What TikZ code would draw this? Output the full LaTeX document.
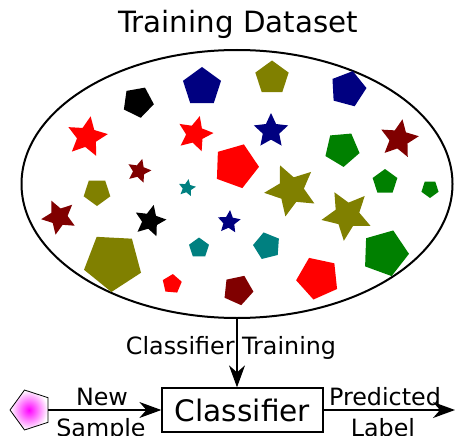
\documentclass[tikz,border=0pt]{standalone}
\usepackage{fontspec}
\setmainfont{DejaVu Sans}
\usetikzlibrary{arrows.meta,shapes.geometric}

% regular pentagon: x, y, circumradius, angle of first vertex, colour
\newcommand\pentashape[5]{%
  \fill[#5, shift={(#1,#2)}] (#4:#3) -- ({#4+72}:#3) -- ({#4+144}:#3)
    -- ({#4+216}:#3) -- ({#4+288}:#3) -- cycle;}
% five-pointed star: x, y, outer radius, angle of first point, colour
\newcommand\starshape[5]{%
  \fill[#5, shift={(#1,#2)}] (#4:#3)
    \foreach \k in {1,...,9} { -- ({#4+36*\k}:{ifthenelse(isodd(\k),0.48*#3,#3)}) }
    -- cycle;}

\definecolor{cRed}{HTML}{FF0000}
\definecolor{cNavy}{HTML}{000080}
\definecolor{cOlive}{HTML}{808000}
\definecolor{cGreen}{HTML}{008000}
\definecolor{cMaroon}{HTML}{800000}
\definecolor{cTeal}{HTML}{008080}

\tikzset{
  flow/.style={line width=1.3pt, -{Stealth[length=22pt, width=16pt, inset=7pt]}},
  lbl/.style={font=\fontsize{23.8}{26}\selectfont, inner sep=0pt},
}

\begin{document}
\begin{tikzpicture}[x=1pt, y=-1pt]
\useasboundingbox (0,0) rectangle (455,436);

% title
\node[font=\fontsize{29.3}{32}\selectfont, anchor=base] (title) at (238,33) {Training Dataset};

% the dataset
\node[ellipse, draw, line width=2pt, inner sep=0pt,
      minimum width=431, minimum height=268] (data) at (237,184) {};

% pentagons
\pentashape{138}{102}{16}{80}{black}
\pentashape{202}{87}{20}{-90}{cNavy}
\pentashape{97}{192}{14}{90}{cOlive}
\pentashape{236}{166}{23}{-70}{cRed}
\pentashape{272}{78}{17.5}{-90}{cOlive}
\pentashape{348}{89}{18.5}{-3}{cNavy}
\pentashape{342}{149}{18}{85}{cGreen}
\pentashape{385}{182}{13}{-90}{cGreen}
\pentashape{430}{189}{9}{90}{cGreen}
\pentashape{113}{262}{30}{93}{cOlive}
\pentashape{199}{248}{10.5}{-90}{cTeal}
\pentashape{267}{246}{14}{-32}{cTeal}
\pentashape{385}{253}{24}{2}{cGreen}
\pentashape{172}{284}{10}{-85}{cRed}
\pentashape{238}{290}{15.5}{-66}{cMaroon}
\pentashape{318}{278}{22}{30}{cRed}

% stars
\starshape{87}{137}{21}{-80}{cRed}
\starshape{195}{134}{18.5}{-75}{cRed}
\starshape{139}{171}{12.5}{-75}{cMaroon}
\starshape{187}{188}{9}{-80}{cTeal}
\starshape{271}{131}{18}{-90}{cNavy}
\starshape{399}{139}{20}{-80}{cMaroon}
\starshape{291}{190}{27}{-42}{cOlive}
\starshape{347}{215}{26}{-47}{cOlive}
\starshape{59}{217}{18}{-43}{cMaroon}
\starshape{150}{221}{16.5}{-77}{black}
\starshape{229}{222}{12}{-85}{cNavy}

% classifier and connectors
\node[draw, line width=1.3pt, minimum width=161, minimum height=44, inner sep=0pt,
      font=\fontsize{29.6}{31}\selectfont] (clf) at (242.5,410) {Classifier};

\node[regular polygon, regular polygon sides=5, shape border rotate=90,
      minimum size=42, inner sep=0pt, draw, line width=0.8pt,
      inner color=magenta, outer color=white] (sample) at (31,410) {};

\coordinate (out) at (455,410);

\draw[flow] (data.south) -- (data.south |- clf.north);
\node[lbl] (trainlbl) at (231,348) {Classifier Training};

\draw[flow] (sample) -- (clf);
\node[lbl, anchor=base] (newlbl) at (102,405) {New};
\node[lbl, anchor=base] (samplelbl) at (101,436) {Sample};

\draw[flow] (clf) -- (out);
\node[lbl, anchor=base] (predlbl) at (385,405) {Predicted};
\node[lbl, anchor=base] (labellbl) at (383,436) {Label};
\end{tikzpicture}
\end{document}
